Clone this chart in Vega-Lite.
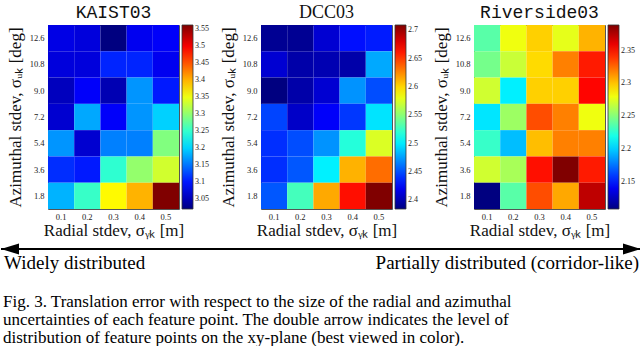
{
  "$schema": "https://vega.github.io/schema/vega-lite/v6.json",
  "background": "white",
  "padding": {"left": 0, "top": 3, "right": 0, "bottom": 0},
  "config": {
    "font": "Liberation Serif",
    "view": {"stroke": "#555", "strokeWidth": 1},
    "axis": {
      "ticks": false, "domain": false, "grid": false,
      "labelFont": "Liberation Serif", "labelFontSize": 8.5, "labelColor": "#222",
      "titleFont": "Liberation Serif", "titleFontSize": 17, "titleFontWeight": "normal", "titleColor": "#111"
    },
    "axisX": {"labelAngle": 0, "labelPadding": 3, "titlePadding": 2},
    "axisY": {"labelPadding": 4, "titlePadding": 5},
    "legend": {
      "gradientLength": 184, "gradientThickness": 11, "offset": 3, "padding": 0,
      "labelFont": "Liberation Serif", "labelFontSize": 8, "labelColor": "#222", "labelOffset": 3,
      "gradientStrokeColor": "#333", "gradientStrokeWidth": 0.8
    },
    "title": {"fontWeight": "normal", "color": "#111", "offset": 3}
  },
  "datasets": {
    "kaist": [
      {"a": "12.6", "r": "0.1", "e": 3.074}, {"a": "12.6", "r": "0.2", "e": 3.069}, {"a": "12.6", "r": "0.3", "e": 3.02}, {"a": "12.6", "r": "0.4", "e": 3.08}, {"a": "12.6", "r": "0.5", "e": 3.085},
      {"a": "10.8", "r": "0.1", "e": 3.069}, {"a": "10.8", "r": "0.2", "e": 3.069}, {"a": "10.8", "r": "0.3", "e": 3.107}, {"a": "10.8", "r": "0.4", "e": 3.107}, {"a": "10.8", "r": "0.5", "e": 3.08},
      {"a": "9.0", "r": "0.1", "e": 3.053}, {"a": "9.0", "r": "0.2", "e": 3.085}, {"a": "9.0", "r": "0.3", "e": 3.047}, {"a": "9.0", "r": "0.4", "e": 3.167}, {"a": "9.0", "r": "0.5", "e": 3.101},
      {"a": "7.2", "r": "0.1", "e": 3.063}, {"a": "7.2", "r": "0.2", "e": 3.177}, {"a": "7.2", "r": "0.3", "e": 3.085}, {"a": "7.2", "r": "0.4", "e": 3.167}, {"a": "7.2", "r": "0.5", "e": 3.199},
      {"a": "5.4", "r": "0.1", "e": 3.167}, {"a": "5.4", "r": "0.2", "e": 3.063}, {"a": "5.4", "r": "0.3", "e": 3.156}, {"a": "5.4", "r": "0.4", "e": 3.156}, {"a": "5.4", "r": "0.5", "e": 3.292},
      {"a": "3.6", "r": "0.1", "e": 3.112}, {"a": "3.6", "r": "0.2", "e": 3.101}, {"a": "3.6", "r": "0.3", "e": 3.248}, {"a": "3.6", "r": "0.4", "e": 3.302}, {"a": "3.6", "r": "0.5", "e": 3.335},
      {"a": "1.8", "r": "0.1", "e": 3.183}, {"a": "1.8", "r": "0.2", "e": 3.253}, {"a": "1.8", "r": "0.3", "e": 3.362}, {"a": "1.8", "r": "0.4", "e": 3.4}, {"a": "1.8", "r": "0.5", "e": 3.563}
    ],
    "dcc": [
      {"a": "12.6", "r": "0.1", "e": 2.391}, {"a": "12.6", "r": "0.2", "e": 2.391}, {"a": "12.6", "r": "0.3", "e": 2.411}, {"a": "12.6", "r": "0.4", "e": 2.43}, {"a": "12.6", "r": "0.5", "e": 2.434},
      {"a": "10.8", "r": "0.1", "e": 2.411}, {"a": "10.8", "r": "0.2", "e": 2.398}, {"a": "10.8", "r": "0.3", "e": 2.401}, {"a": "10.8", "r": "0.4", "e": 2.398}, {"a": "10.8", "r": "0.5", "e": 2.479},
      {"a": "9.0", "r": "0.1", "e": 2.385}, {"a": "9.0", "r": "0.2", "e": 2.398}, {"a": "9.0", "r": "0.3", "e": 2.411}, {"a": "9.0", "r": "0.4", "e": 2.472}, {"a": "9.0", "r": "0.5", "e": 2.45},
      {"a": "7.2", "r": "0.1", "e": 2.447}, {"a": "7.2", "r": "0.2", "e": 2.408}, {"a": "7.2", "r": "0.3", "e": 2.424}, {"a": "7.2", "r": "0.4", "e": 2.443}, {"a": "7.2", "r": "0.5", "e": 2.498},
      {"a": "5.4", "r": "0.1", "e": 2.44}, {"a": "5.4", "r": "0.2", "e": 2.45}, {"a": "5.4", "r": "0.3", "e": 2.472}, {"a": "5.4", "r": "0.4", "e": 2.518}, {"a": "5.4", "r": "0.5", "e": 2.576},
      {"a": "3.6", "r": "0.1", "e": 2.44}, {"a": "3.6", "r": "0.2", "e": 2.453}, {"a": "3.6", "r": "0.3", "e": 2.502}, {"a": "3.6", "r": "0.4", "e": 2.612}, {"a": "3.6", "r": "0.5", "e": 2.634},
      {"a": "1.8", "r": "0.1", "e": 2.453}, {"a": "1.8", "r": "0.2", "e": 2.528}, {"a": "1.8", "r": "0.3", "e": 2.615}, {"a": "1.8", "r": "0.4", "e": 2.664}, {"a": "1.8", "r": "0.5", "e": 2.709}
    ],
    "riverside": [
      {"a": "12.6", "r": "0.1", "e": 2.238}, {"a": "12.6", "r": "0.2", "e": 2.28}, {"a": "12.6", "r": "0.3", "e": 2.297}, {"a": "12.6", "r": "0.4", "e": 2.277}, {"a": "12.6", "r": "0.5", "e": 2.305},
      {"a": "10.8", "r": "0.1", "e": 2.246}, {"a": "10.8", "r": "0.2", "e": 2.269}, {"a": "10.8", "r": "0.3", "e": 2.294}, {"a": "10.8", "r": "0.4", "e": 2.319}, {"a": "10.8", "r": "0.5", "e": 2.347},
      {"a": "9.0", "r": "0.1", "e": 2.271}, {"a": "9.0", "r": "0.2", "e": 2.21}, {"a": "9.0", "r": "0.3", "e": 2.297}, {"a": "9.0", "r": "0.4", "e": 2.297}, {"a": "9.0", "r": "0.5", "e": 2.353},
      {"a": "7.2", "r": "0.1", "e": 2.207}, {"a": "7.2", "r": "0.2", "e": 2.257}, {"a": "7.2", "r": "0.3", "e": 2.333}, {"a": "7.2", "r": "0.4", "e": 2.319}, {"a": "7.2", "r": "0.5", "e": 2.28},
      {"a": "5.4", "r": "0.1", "e": 2.229}, {"a": "5.4", "r": "0.2", "e": 2.196}, {"a": "5.4", "r": "0.3", "e": 2.302}, {"a": "5.4", "r": "0.4", "e": 2.319}, {"a": "5.4", "r": "0.5", "e": 2.319},
      {"a": "3.6", "r": "0.1", "e": 2.271}, {"a": "3.6", "r": "0.2", "e": 2.26}, {"a": "3.6", "r": "0.3", "e": 2.35}, {"a": "3.6", "r": "0.4", "e": 2.389}, {"a": "3.6", "r": "0.5", "e": 2.347},
      {"a": "1.8", "r": "0.1", "e": 2.109}, {"a": "1.8", "r": "0.2", "e": 2.238}, {"a": "1.8", "r": "0.3", "e": 2.333}, {"a": "1.8", "r": "0.4", "e": 2.308}, {"a": "1.8", "r": "0.5", "e": 2.372}
    ]
  },
  "title": {
    "text": [
      "Fig. 3. Translation error with respect to the size of the radial and azimuthal",
      "uncertainties of each feature point. The double arrow indicates the level of",
      "distribution of feature points on the xy-plane (best viewed in color)."
    ],
    "orient": "bottom", "anchor": "start", "frame": "bounds",
    "font": "Liberation Serif", "fontSize": 17, "lineHeight": 18, "fontWeight": "normal", "color": "#000",
    "offset": 20, "dx": 3
  },
  "spacing": 4,
  "vconcat": [
    {
      "hconcat": [
        {
          "data": {"name": "kaist"},
          "title": {"text": "KAIST03", "font": "Liberation Mono", "fontSize": 18},
          "width": 131, "height": 184,
          "mark": "rect",
          "encoding": {
            "x": {"field": "r", "type": "ordinal", "title": "Radial stdev, σᵧₖ [m]", "scale": {"paddingInner": 0, "paddingOuter": 0}},
            "y": {"field": "a", "type": "ordinal", "sort": ["12.6", "10.8", "9.0", "7.2", "5.4", "3.6", "1.8"], "title": "Azimuthal stdev, σᵤₖ [deg]", "scale": {"paddingInner": 0, "paddingOuter": 0}},
            "color": {"field": "e", "type": "quantitative", "title": null,
              "scale": {"domain": [3.02, 3.0879, 3.1558, 3.2236, 3.2915, 3.3594, 3.4273, 3.4951, 3.563], "range": ["#000080", "#0000ff", "#0080ff", "#00ffff", "#80ff80", "#ffff00", "#ff8000", "#ff0000", "#800000"], "interpolate": "rgb"},
              "legend": {"values": [3.05, 3.1, 3.15, 3.2, 3.25, 3.3, 3.35, 3.4, 3.45, 3.5, 3.55], "format": ".3~r"}}
          }
        },
        {
          "data": {"name": "dcc"},
          "title": {"text": "DCC03", "font": "Liberation Serif", "fontSize": 18},
          "width": 131, "height": 184,
          "mark": "rect",
          "encoding": {
            "x": {"field": "r", "type": "ordinal", "title": "Radial stdev, σᵧₖ [m]", "scale": {"paddingInner": 0, "paddingOuter": 0}},
            "y": {"field": "a", "type": "ordinal", "sort": ["12.6", "10.8", "9.0", "7.2", "5.4", "3.6", "1.8"], "title": "Azimuthal stdev, σᵤₖ [deg]", "scale": {"paddingInner": 0, "paddingOuter": 0}},
            "color": {"field": "e", "type": "quantitative", "title": null,
              "scale": {"domain": [2.385, 2.4255, 2.466, 2.5065, 2.547, 2.5875, 2.628, 2.6685, 2.709], "range": ["#000080", "#0000ff", "#0080ff", "#00ffff", "#80ff80", "#ffff00", "#ff8000", "#ff0000", "#800000"], "interpolate": "rgb"},
              "legend": {"values": [2.4, 2.45, 2.5, 2.55, 2.6, 2.65, 2.7], "format": ".3~r"}}
          }
        },
        {
          "data": {"name": "riverside"},
          "title": {"text": "Riverside03", "font": "Liberation Mono", "fontSize": 18},
          "width": 131, "height": 184,
          "mark": "rect",
          "encoding": {
            "x": {"field": "r", "type": "ordinal", "title": "Radial stdev, σᵧₖ [m]", "scale": {"paddingInner": 0, "paddingOuter": 0}},
            "y": {"field": "a", "type": "ordinal", "sort": ["12.6", "10.8", "9.0", "7.2", "5.4", "3.6", "1.8"], "title": "Azimuthal stdev, σᵤₖ [deg]", "scale": {"paddingInner": 0, "paddingOuter": 0}},
            "color": {"field": "e", "type": "quantitative", "title": null,
              "scale": {"domain": [2.109, 2.144, 2.179, 2.214, 2.249, 2.284, 2.319, 2.354, 2.389], "range": ["#000080", "#0000ff", "#0080ff", "#00ffff", "#80ff80", "#ffff00", "#ff8000", "#ff0000", "#800000"], "interpolate": "rgb"},
              "legend": {"values": [2.15, 2.2, 2.25, 2.3, 2.35], "format": ".3~r"}}
          }
        }
      ],
      "spacing": 82,
      "bounds": "flush",
      "resolve": {"scale": {"color": "independent", "x": "independent", "y": "independent"}, "legend": {"color": "independent"}}
    },
    {
      "width": 593, "height": 30,
      "view": {"stroke": null},
      "layer": [
        {
          "data": {"values": [{"p": 0, "p2": 640, "lvl": 25}]},
          "mark": {"type": "rule", "strokeWidth": 2, "color": "#000"},
          "encoding": {
            "x": {"field": "p", "type": "quantitative", "scale": {"domain": [47, 640], "nice": false, "zero": false}, "axis": null},
            "x2": {"field": "p2"},
            "y": {"field": "lvl", "type": "quantitative", "scale": {"domain": [0, 30], "nice": false}, "axis": null}
          }
        },
        {
          "data": {"values": [{"p": 0, "lvl": 25, "side": "left"}, {"p": 640, "lvl": 25, "side": "right"}]},
          "mark": {"type": "point", "filled": true, "opacity": 1, "size": 324, "color": "#000", "strokeWidth": 0},
          "encoding": {
            "x": {"field": "p", "type": "quantitative"},
            "y": {"field": "lvl", "type": "quantitative"},
            "shape": {"field": "side", "type": "nominal", "legend": null, "scale": {"domain": ["left", "right"], "range": ["M 0 0 L 2 -0.6 L 2 0.6 Z", "M 0 0 L -2 -0.6 L -2 0.6 Z"]}}
          }
        },
        {
          "data": {"values": [{"p": 0, "lvl": 5, "label": "Widely distributed"}]},
          "mark": {"type": "text", "align": "left", "baseline": "alphabetic", "dx": 3, "font": "Liberation Serif", "fontSize": 19, "color": "#000"},
          "encoding": {
            "x": {"field": "p", "type": "quantitative"},
            "y": {"field": "lvl", "type": "quantitative"},
            "text": {"field": "label"}
          }
        },
        {
          "data": {"values": [{"p": 640, "lvl": 5, "label": "Partially distributed (corridor-like)"}]},
          "mark": {"type": "text", "align": "right", "baseline": "alphabetic", "dx": -2, "font": "Liberation Serif", "fontSize": 19, "color": "#000"},
          "encoding": {
            "x": {"field": "p", "type": "quantitative"},
            "y": {"field": "lvl", "type": "quantitative"},
            "text": {"field": "label"}
          }
        }
      ]
    }
  ]
}
